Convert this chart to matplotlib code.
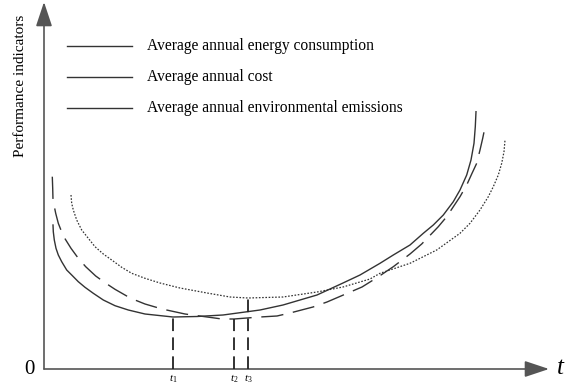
import matplotlib
matplotlib.use("Agg")
import matplotlib.pyplot as plt
from matplotlib.patches import FancyArrowPatch

plt.rcParams['font.family'] = ['Liberation Serif', 'DejaVu Serif']
plt.rcParams['mathtext.fontset'] = 'custom'
plt.rcParams['mathtext.rm'] = 'Liberation Serif'
plt.rcParams['mathtext.it'] = 'Liberation Serif:italic'

# ---- data ----
energy_t = [0.18, 0.186, 0.206, 0.24, 0.286, 0.354, 0.454, 0.554, 0.686, 0.82, 0.986, 1.186,
            1.42, 1.686, 2.02, 2.58, 3.06, 3.58, 4.32, 4.78, 5.46, 5.98, 6.32, 6.72, 6.986,
            7.32, 7.586, 7.786, 7.986, 8.186, 8.32, 8.454, 8.54, 8.60, 8.626, 8.64]
energy_v = [2.88, 2.746, 2.58, 2.414, 2.28, 2.146, 1.98, 1.88, 1.746, 1.634, 1.514, 1.38,
            1.266, 1.18, 1.10, 1.04, 1.05, 1.08, 1.18, 1.28, 1.48, 1.72, 1.88, 2.114, 2.28,
            2.48, 2.714, 2.88, 3.08, 3.346, 3.58, 3.88, 4.18, 4.514, 4.846, 5.146]

cost_t = [0.166, 0.174, 0.18, 0.234, 0.286, 0.386, 0.54, 0.686, 0.834, 1.034, 1.22, 1.42,
          1.654, 1.82, 2.02, 2.36, 2.82, 3.56, 3.80, 4.32, 4.66, 4.92, 5.38, 5.66, 6.08,
          6.36, 6.68, 6.986, 7.32, 7.554, 7.886, 8.054, 8.32, 8.454, 8.554, 8.654, 8.72,
          8.774, 8.82]
cost_v = [3.846, 3.614, 3.38, 3.114, 2.914, 2.66, 2.414, 2.214, 2.046, 1.86, 1.726, 1.594,
          1.46, 1.38, 1.30, 1.20, 1.10, 1.00, 1.00, 1.04, 1.06, 1.12, 1.24, 1.34, 1.52,
          1.64, 1.84, 2.046, 2.30, 2.50, 2.846, 3.046, 3.446, 3.68, 3.90, 4.114, 4.38,
          4.614, 4.836]

emis_t = [0.54, 0.554, 0.586, 0.654, 0.754, 0.886, 1.02, 1.186, 1.354, 1.554, 1.754, 2.02,
          2.32, 2.72, 3.26, 3.72, 4.08, 4.78, 5.46, 5.98, 6.52, 6.72, 7.32, 7.854, 8.32,
          8.52, 8.72, 8.886, 8.986, 9.086, 9.154, 9.20, 9.22]
emis_v = [3.48, 3.314, 3.18, 2.98, 2.78, 2.614, 2.446, 2.30, 2.18, 2.034, 1.914, 1.814,
          1.72, 1.62, 1.52, 1.44, 1.42, 1.44, 1.54, 1.64, 1.80, 1.914, 2.114, 2.38, 2.714,
          2.914, 3.18, 3.446, 3.646, 3.88, 4.114, 4.346, 4.58]

opt_t = [2.58, 3.80, 4.08]          # t1, t2, t3
opt_v = [1.04, 1.00, 1.42]
opt_labels = ['$t_1$', '$t_2$', '$t_3$']

legend_labels = ['Average annual energy consumption',
                 'Average annual cost',
                 'Average annual environmental emissions']
ylabel = 'Performance indicators'

# ---- figure ----
fig = plt.figure(figsize=(5.65, 3.85), dpi=100)
ax = fig.add_axes([0, 0, 1, 1])
ax.set_xlim(-0.88, 10.42)
ax.set_ylim(-0.32, 7.38)
ax.axis('off')

c = '#333333'
ax.plot(energy_t, energy_v, color=c, lw=1.0, solid_joinstyle='round')
ax.plot(cost_t, cost_v, color=c, lw=1.0, dashes=(16, 7), dash_joinstyle='round')
ax.plot(emis_t, emis_v, color=c, lw=0.9, dashes=(1.3, 1.3))

for t, v, lab in zip(opt_t, opt_v, opt_labels):
    ax.plot([t, t], [0, v], color='#222222', lw=1.3, dashes=(7, 3.5))
    ax.text(t, -0.2, lab, ha='center', va='center', fontsize=8)

# axes arrows
axc = '#555555'
astyle = '-|>,head_length=1.5,head_width=0.5'
ax.add_patch(FancyArrowPatch((0, 0), (10.1, 0), arrowstyle=astyle,
                             mutation_scale=10, color=axc, lw=1.2, shrinkA=0, shrinkB=0))
ax.add_patch(FancyArrowPatch((0, 0), (0, 7.34), arrowstyle=astyle,
                             mutation_scale=10, color=axc, lw=1.2, shrinkA=0, shrinkB=0))
ax.text(-0.30, 0, '0', ha='center', va='center', fontsize=15)
ax.text(10.32, 0.02, 't', ha='center', va='center', fontsize=18, style='italic')
ax.text(-0.46, 5.66, ylabel, rotation=90, ha='center', va='center', fontsize=11)

# legend (all solid sample lines)
for i, lab in enumerate(legend_labels):
    y = 6.46 - 0.62 * i
    ax.plot([0.46, 1.76], [y, y], color=c, lw=1.0)
    ax.text(2.06, y, lab, ha='left', va='center', fontsize=11.2)

fig.savefig('out.png', dpi=100)
